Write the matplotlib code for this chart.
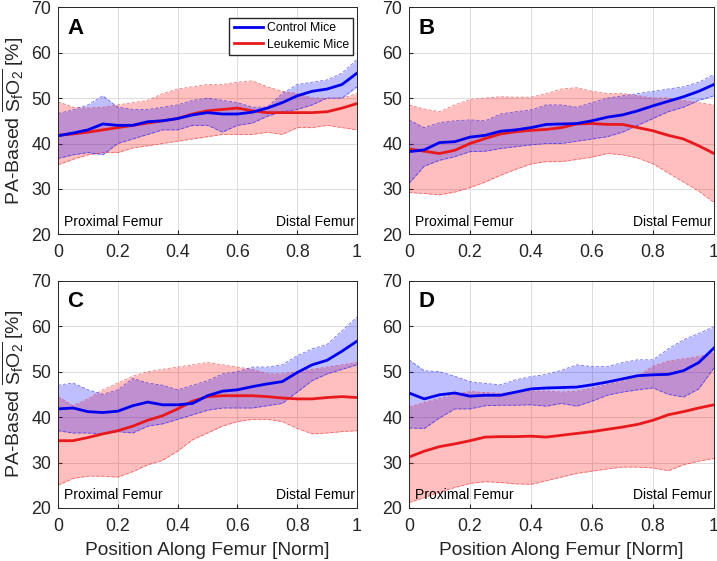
import numpy as np
import matplotlib
matplotlib.use("Agg")
import matplotlib.pyplot as plt
from matplotlib.ticker import FormatStrFormatter

plt.rcParams['font.family'] = ['Liberation Sans', 'DejaVu Sans']
plt.rcParams['mathtext.fontset'] = 'custom'
plt.rcParams['mathtext.rm'] = 'Liberation Sans'
plt.rcParams['mathtext.it'] = 'Liberation Sans'

# position along femur (normalised)
pos = np.linspace(0, 1, 21)

# panel A
a_ctrl = [41.7, 42.3, 43.0, 44.3, 44.0, 44.0, 44.8, 45.0, 45.5, 46.3, 46.8, 46.5, 46.5, 46.9, 47.8, 49.0, 50.5, 51.5, 52.0, 53.0, 55.5]
a_ctrl_hi = [46.6, 47.4, 48.5, 50.5, 48.0, 47.5, 47.5, 48.0, 48.5, 49.5, 50.0, 49.5, 49.0, 48.0, 48.0, 51.0, 53.0, 53.5, 54.0, 55.5, 58.5]
a_ctrl_lo = [36.7, 37.5, 38.0, 37.5, 40.0, 41.0, 42.0, 43.0, 43.0, 44.0, 44.0, 42.5, 44.0, 44.5, 46.0, 47.0, 47.5, 48.5, 50.0, 50.0, 52.5]
a_leuk = [41.8, 42.1, 42.5, 43.0, 43.5, 44.0, 44.5, 45.0, 45.5, 46.5, 47.2, 47.5, 47.8, 47.2, 46.8, 46.8, 46.8, 46.8, 47.0, 47.8, 48.8]
a_leuk_hi = [49.2, 48.0, 47.8, 48.0, 48.5, 49.0, 49.5, 51.0, 52.0, 52.5, 53.0, 53.0, 53.5, 53.8, 52.5, 51.5, 51.0, 50.0, 50.0, 50.0, 51.0]
a_leuk_lo = [35.3, 36.5, 37.5, 38.0, 38.0, 39.0, 39.5, 40.0, 40.5, 41.0, 41.5, 42.0, 42.0, 42.0, 42.5, 42.0, 43.5, 43.5, 44.0, 43.5, 43.0]

# panel B
b_ctrl = [38.2, 38.6, 40.2, 40.4, 41.4, 41.8, 42.7, 43.0, 43.5, 44.2, 44.3, 44.4, 45.0, 45.8, 46.3, 47.2, 48.3, 49.3, 50.3, 51.5, 53.0]
b_ctrl_hi = [45.2, 43.5, 44.6, 45.0, 45.2, 45.0, 46.5, 47.0, 47.4, 48.5, 48.5, 48.0, 49.0, 50.0, 50.5, 51.0, 51.5, 52.0, 52.5, 53.5, 55.2]
b_ctrl_lo = [31.2, 35.0, 36.3, 37.1, 38.2, 38.3, 38.9, 39.3, 39.7, 40.0, 40.0, 40.5, 41.0, 41.5, 42.5, 44.0, 45.5, 47.0, 48.0, 49.5, 50.5]
b_leuk = [38.8, 38.3, 37.8, 38.5, 40.0, 41.1, 42.1, 42.6, 42.9, 43.1, 43.5, 44.3, 44.4, 44.2, 44.2, 43.5, 42.8, 41.8, 41.0, 39.5, 37.8]
b_leuk_hi = [48.5, 47.6, 47.0, 48.5, 49.7, 50.0, 50.3, 50.2, 50.2, 51.0, 52.0, 52.3, 51.5, 51.0, 51.0, 50.5, 50.0, 50.0, 49.5, 49.0, 48.5]
b_leuk_lo = [29.2, 29.0, 28.7, 29.3, 30.3, 31.5, 33.0, 34.3, 35.5, 36.0, 36.0, 36.5, 37.0, 37.8, 37.5, 36.8, 35.5, 33.5, 31.5, 29.5, 27.0]

# panel C
c_ctrl = [41.8, 42.0, 41.2, 41.0, 41.3, 42.5, 43.3, 42.7, 42.7, 43.0, 44.7, 45.7, 46.0, 46.7, 47.3, 47.8, 49.8, 51.5, 52.5, 54.5, 56.7]
c_ctrl_hi = [47.0, 47.5, 46.0, 45.0, 46.0, 48.5, 47.5, 47.0, 46.0, 47.0, 48.0, 49.5, 50.0, 51.0, 51.0, 51.5, 53.5, 55.0, 56.0, 59.0, 62.0]
c_ctrl_lo = [37.0, 36.5, 36.5, 36.3, 36.8, 36.5, 38.0, 38.5, 39.5, 40.5, 41.5, 42.0, 42.0, 42.0, 42.5, 43.0, 45.5, 48.0, 49.5, 50.5, 51.5]
c_leuk = [34.8, 34.8, 35.5, 36.3, 37.0, 38.0, 39.3, 40.3, 41.8, 43.5, 44.5, 44.7, 44.7, 44.7, 44.5, 44.2, 44.0, 44.0, 44.3, 44.5, 44.3]
c_leuk_hi = [44.5, 42.5, 44.0, 46.0, 47.5, 49.0, 50.0, 50.5, 51.0, 51.5, 52.0, 51.5, 51.0, 50.5, 49.5, 49.5, 50.0, 50.5, 51.0, 51.5, 52.0]
c_leuk_lo = [25.0, 26.5, 27.0, 27.0, 26.8, 28.0, 29.5, 30.5, 32.5, 35.0, 36.5, 38.0, 39.0, 39.5, 39.5, 39.0, 37.5, 36.3, 36.5, 36.8, 37.0]

# panel D
d_ctrl = [45.3, 44.0, 44.9, 45.3, 44.6, 44.8, 44.8, 45.5, 46.2, 46.4, 46.5, 46.6, 47.1, 47.7, 48.4, 49.1, 49.3, 49.4, 50.2, 52.0, 55.2]
d_ctrl_hi = [52.6, 50.2, 50.0, 49.0, 47.8, 47.4, 47.1, 48.2, 48.9, 49.4, 50.3, 51.5, 51.1, 51.1, 52.0, 52.6, 52.6, 55.0, 57.0, 58.4, 59.9]
d_ctrl_lo = [37.6, 37.5, 39.8, 41.8, 41.8, 42.5, 42.6, 42.6, 42.7, 42.4, 43.0, 42.4, 43.5, 44.8, 45.5, 46.0, 46.4, 45.0, 44.4, 46.2, 50.8]
d_leuk = [31.2, 32.5, 33.5, 34.1, 34.8, 35.6, 35.7, 35.7, 35.8, 35.6, 36.0, 36.4, 36.8, 37.3, 37.8, 38.4, 39.3, 40.5, 41.2, 42.0, 42.7]
d_leuk_hi = [42.2, 43.2, 44.1, 45.0, 45.6, 45.4, 45.2, 45.5, 45.7, 45.7, 45.5, 45.7, 46.4, 47.2, 47.9, 49.0, 51.2, 52.3, 52.8, 53.3, 54.1]
d_leuk_lo = [21.2, 22.3, 23.5, 24.5, 25.4, 25.8, 25.6, 25.3, 25.2, 26.0, 26.8, 27.6, 28.1, 28.6, 29.0, 29.0, 28.8, 28.2, 29.5, 30.3, 30.9]

panels = ['A', 'B', 'C', 'D']
ctrl = [a_ctrl, b_ctrl, c_ctrl, d_ctrl]
ctrl_hi = [a_ctrl_hi, b_ctrl_hi, c_ctrl_hi, d_ctrl_hi]
ctrl_lo = [a_ctrl_lo, b_ctrl_lo, c_ctrl_lo, d_ctrl_lo]
leuk = [a_leuk, b_leuk, c_leuk, d_leuk]
leuk_hi = [a_leuk_hi, b_leuk_hi, c_leuk_hi, d_leuk_hi]
leuk_lo = [a_leuk_lo, b_leuk_lo, c_leuk_lo, d_leuk_lo]

blue = '#0000f0'
red = '#e8191c'
dark = '#262626'

fig = plt.figure(figsize=(7.17, 5.61), dpi=100)
rects = [
    [58 / 717, 326.7 / 561, 299 / 717, 227 / 561],
    [409 / 717, 326.7 / 561, 305 / 717, 227 / 561],
    [58 / 717, 53 / 561, 299 / 717, 227.3 / 561],
    [409 / 717, 53 / 561, 305 / 717, 227.3 / 561],
]

ylab = r'PA-Based $\overline{\mathregular{S_fO_2}}$ [%]'

for i in range(4):
    ax = fig.add_axes(rects[i])
    ax.fill_between(pos, leuk_lo[i], leuk_hi[i], color='#ff0000', alpha=0.25, lw=0)
    ax.fill_between(pos, ctrl_lo[i], ctrl_hi[i], color='#0000ff', alpha=0.25, lw=0)
    for b in [leuk_lo[i], leuk_hi[i]]:
        ax.plot(pos, b, ls='--', color=red, lw=0.6, alpha=0.55, dashes=(4, 2))
    for b in [ctrl_lo[i], ctrl_hi[i]]:
        ax.plot(pos, b, ls='--', color=blue, lw=0.6, alpha=0.55, dashes=(4, 2))
    l2, = ax.plot(pos, leuk[i], color=red, lw=2.0, label='Leukemic Mice')
    l1, = ax.plot(pos, ctrl[i], color=blue, lw=2.0, label='Control Mice')

    ax.set_xlim(0, 1)
    ax.set_ylim(20, 70)
    ax.set_xticks(np.arange(0, 1.01, 0.2))
    ax.set_yticks(np.arange(20, 71, 10))
    ax.xaxis.set_major_formatter(FormatStrFormatter('%g'))
    ax.grid(True, color='#dcdcdc', lw=0.7)
    ax.set_axisbelow(True)
    ax.tick_params(direction='in', length=3, labelsize=12.8, colors=dark)
    ax.tick_params(axis='x', pad=7)
    ax.tick_params(axis='y', pad=5)
    for s in ax.spines.values():
        s.set_color(dark)
        s.set_linewidth(0.7)

    ax.text(0.03, 0.955, panels[i], transform=ax.transAxes, fontsize=16,
            fontweight='bold', va='top', ha='left')
    ax.text(0.02, 0.038, 'Proximal Femur', transform=ax.transAxes, fontsize=10,
            va='baseline', ha='left')
    ax.text(0.993, 0.038, 'Distal Femur', transform=ax.transAxes, fontsize=10,
            va='baseline', ha='right')

    if i % 2 == 0:
        ax.set_ylabel(ylab, fontsize=14, color=dark, labelpad=4)
    if i >= 2:
        ax.set_xlabel('Position Along Femur [Norm]', fontsize=13.8, color=dark, labelpad=5)
    if i == 0:
        ax.legend(handles=[l1, l2], loc='upper right', bbox_to_anchor=(0.987, 0.953),
                  fontsize=8.8, frameon=True, fancybox=False, edgecolor=dark,
                  framealpha=1, borderpad=0.35, handlelength=2.4,
                  handletextpad=0.3, labelspacing=0.35, borderaxespad=0)

fig.savefig('out.png', dpi=100)
